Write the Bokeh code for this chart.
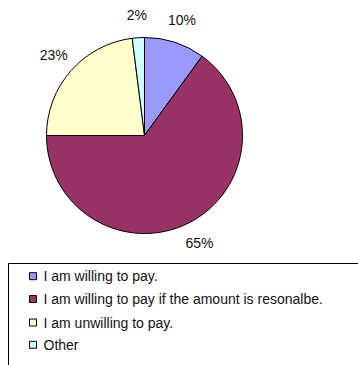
import numpy as np
from bokeh.plotting import figure
from bokeh.models import Range1d, ColumnDataSource
from bokeh.core.properties import value
from bokeh.embed import file_html
from bokeh.resources import INLINE

# ---- data ----
categories = [
    "I am willing to pay.",
    "I am willing to pay if the amount is resonalbe.",
    "I am unwilling to pay.",
    "Other",
]
percent = [10, 65, 23, 2]
labels = ["10%", "65%", "23%", "2%"]
colors = ["#9999FF", "#993366", "#FFFFCC", "#CCFFFF"]

W, H = 358, 365
p = figure(width=W, height=H, output_backend="svg", toolbar_location=None,
           x_range=Range1d(0, W), y_range=Range1d(0, H), min_border=0)
p.axis.visible = False
p.grid.visible = False
p.outline_line_color = None
p.background_fill_color = "white"
p.border_fill_color = "white"

def Y(y_px):
    return H - y_px

# pie geometry
cx, cy, r = 144, Y(135), 98
vals = np.array(percent, dtype=float)
fr = vals / vals.sum()
cum = np.concatenate([[0], np.cumsum(fr)])
start = np.pi / 2 - cum[:-1] * 2 * np.pi
end = np.pi / 2 - cum[1:] * 2 * np.pi
mid = (start + end) / 2

src = ColumnDataSource(dict(start=start, end=end, color=colors))
p.wedge(x=cx, y=cy, radius=r, start_angle="start", end_angle="end",
        direction="clock", fill_color="color", line_color="black",
        line_width=1, source=src)

lr = 121
p.text(x=cx + lr * np.cos(mid), y=cy + lr * np.sin(mid), text=labels,
       text_font=value("Liberation Sans"), text_font_size="14px",
       text_align="center", text_baseline="middle", text_color="#111111")

# legend box
p.quad(left=8, right=W + 2, top=Y(263), bottom=Y(H + 3),
       fill_color="white", line_color="black", line_width=1)

row_y = [Y(275.7), Y(298.5), Y(322.0), Y(344.3)]
p.rect(x=[32.5] * 4, y=row_y, width=7, height=7,
       fill_color=colors, line_color="black", line_width=1)
p.text(x=[43] * 4, y=row_y, text=categories,
       text_font=value("Liberation Sans"), text_font_size="14px",
       text_align="left", text_baseline="middle", text_color="#111111")

open("out.html", "w").write(file_html(p, INLINE))
